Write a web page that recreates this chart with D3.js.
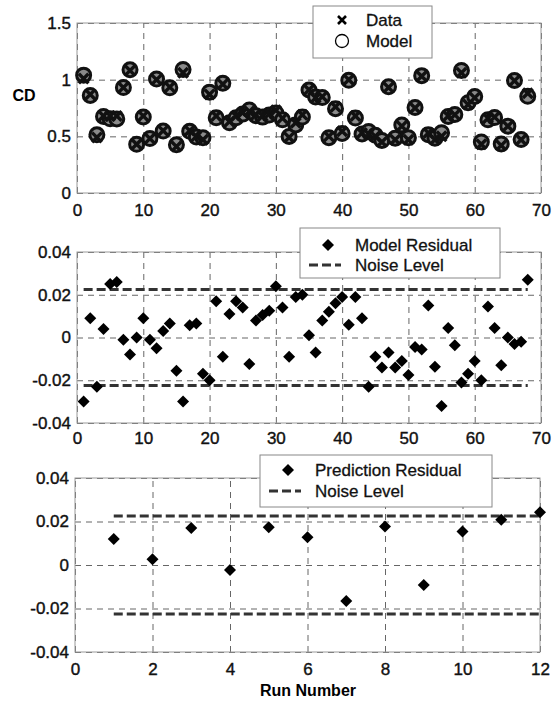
<!DOCTYPE html>
<html>
<head>
<meta charset="utf-8">
<script src="https://cdn.jsdelivr.net/npm/d3@7"></script>
<style>
  body { margin: 0; background: #fff; }
  svg { font-family: "Liberation Sans", Arial, sans-serif; }
</style>
</head>
<body>
<svg id="canvas"></svg>
<script>
// run numbers of the fitted set
const runs = [
  1, 2, 3, 4, 5, 6, 7, 8, 9, 10, 11, 12, 13, 14, 15, 16, 17,
  18, 19, 20, 21, 22, 23, 24, 25, 26, 27, 28, 29, 30, 31, 32, 33, 34,
  35, 36, 37, 38, 39, 40, 41, 42, 43, 44, 45, 46, 47, 48, 49, 50, 51,
  52, 53, 54, 55, 56, 57, 58, 59, 60, 61, 62, 63, 64, 65, 66, 67, 68,
];
// measured CD
const cdData = [
  1.01, 0.87, 0.49, 0.68, 0.68, 0.68, 0.93, 1.08, 0.43, 0.68, 0.48, 1.0, 0.55, 0.935, 0.41, 1.06, 0.55,
  0.5, 0.47, 0.87, 0.68, 0.96, 0.63, 0.68, 0.71, 0.72, 0.69, 0.68, 0.7, 0.73, 0.66, 0.49, 0.62, 0.69,
  0.91, 0.84, 0.85, 0.5, 0.76, 0.545, 1.0, 0.68, 0.53, 0.52, 0.5, 0.45, 0.93, 0.47, 0.59, 0.47, 0.75,
  1.03, 0.53, 0.47, 0.5, 0.68, 0.69, 1.06, 0.78, 0.84, 0.43, 0.66, 0.67, 0.42, 0.59, 0.99, 0.47, 0.88,
];
// data - model
const modelResidual = [
  -0.03, 0.009, -0.023, 0.004, 0.025, 0.026, -0.001, -0.008, 0.0, 0.009, -0.001, -0.005, 0.003, 0.0065, -0.0155, -0.03, 0.0057,
  0.0065, -0.017, -0.02, 0.017, -0.009, 0.011, 0.017, 0.014, -0.0124, 0.008, 0.0105, 0.0125, 0.024, 0.014, -0.009, 0.019, 0.02,
  0.001, -0.007, 0.008, 0.012, 0.016, 0.019, 0.006, 0.019, 0.009, -0.023, -0.009, -0.014, -0.007, -0.014, -0.011, -0.0175, -0.0044,
  -0.0056, 0.015, -0.0137, -0.032, 0.0045, -0.0036, -0.021, -0.017, -0.011, -0.02, 0.0145, 0.0045, -0.013, 0.0, -0.003, -0.002, 0.027,
];
const predRuns = [1, 2, 3, 4, 5, 6, 7, 8, 9, 10, 11, 12];
const predResidual = [0.012, 0.0026, 0.017, -0.0023, 0.0174, 0.0128, -0.0165, 0.0177, -0.0092, 0.0154, 0.0208, 0.0242];
const noiseLevel = 0.0225;

const cdTicks = [0, 0.5, 1, 1.5];
const residTicks = [-0.04, -0.02, 0, 0.02, 0.04];
const runTicks = [0, 10, 20, 30, 40, 50, 60, 70];
const predTicks = [0, 2, 4, 6, 8, 10, 12];

const width = 558;
const height = 705;

const canvas = d3.select("#canvas").attr("width", width).attr("height", height);

const fmt = (d) => String(+d.toFixed(2));

const makePanel = (box, xDomain, yDomain, xTicks, yTicks, xPad) => {
  const xScale = d3.scaleLinear().domain(xDomain).range([box.left, box.right]);
  const yScale = d3.scaleLinear().domain(yDomain).range([box.bottom, box.top]);
  const g = canvas.append("g");

  // grid
  g.append("g")
    .attr("transform", `translate(0, ${box.bottom})`)
    .call(d3.axisBottom(xScale).tickValues(xTicks).tickSize(-(box.bottom - box.top)).tickFormat(""))
    .call((s) => s.select(".domain").remove())
    .selectAll("line")
    .attr("stroke", "#666")
    .attr("stroke-dasharray", "6,5");
  g.append("g")
    .attr("transform", `translate(${box.left}, 0)`)
    .call(d3.axisLeft(yScale).tickValues(yTicks).tickSize(-(box.right - box.left)).tickFormat(""))
    .call((s) => s.select(".domain").remove())
    .selectAll("line")
    .attr("stroke", "#666")
    .attr("stroke-dasharray", "6,5");

  g.append("rect")
    .attr("x", box.left)
    .attr("y", box.top)
    .attr("width", box.right - box.left)
    .attr("height", box.bottom - box.top)
    .attr("fill", "none")
    .attr("stroke", "#999");

  // tick labels
  const xAxis = g.append("g")
    .attr("transform", `translate(0, ${box.bottom})`)
    .call(d3.axisBottom(xScale).tickValues(xTicks).tickSize(0).tickPadding(xPad).tickFormat(fmt));
  const yAxis = g.append("g")
    .attr("transform", `translate(${box.left}, 0)`)
    .call(d3.axisLeft(yScale).tickValues(yTicks).tickSize(0).tickPadding(6).tickFormat(fmt));
  [xAxis, yAxis].forEach((a) => {
    a.select(".domain").remove();
    a.selectAll("text")
      .attr("font-size", 17)
      .attr("fill", "#111")
      .attr("stroke", "#111")
      .attr("stroke-width", 0.4);
    a.attr("font-family", null);
  });

  return { xScale, yScale, g };
};

const drawNoise = (p, xs) => {
  [noiseLevel, -noiseLevel].forEach((lvl) => {
    p.g.append("path")
      .datum(xs)
      .attr("d", d3.line().x((d) => p.xScale(d)).y(() => p.yScale(lvl)))
      .attr("fill", "none")
      .attr("stroke", "#333")
      .attr("stroke-width", 3)
      .attr("stroke-dasharray", "9,4");
  });
};

const diamond = d3.symbol().type(d3.symbolSquare).size(72);

const drawDiamonds = (p, xs, ys) => {
  p.g.selectAll(".dia")
    .data(xs)
    .enter()
    .append("path")
    .attr("d", diamond)
    .attr("transform", (d, i) => `translate(${p.xScale(d)}, ${p.yScale(ys[i])}) rotate(45)`)
    .attr("fill", "#000");
};

const drawLegend = (g, box, items) => {
  g.append("rect")
    .attr("x", box.x).attr("y", box.y).attr("width", box.w).attr("height", box.h)
    .attr("fill", "#fff").attr("stroke", "#888");
  items.forEach((it) => {
    if (it.type === "diamond") {
      g.append("path").attr("d", diamond).attr("transform", `translate(${it.mx}, ${it.y}) rotate(45)`);
    } else if (it.type === "dash") {
      g.append("line")
        .attr("x1", it.mx - 16).attr("x2", it.mx + 16).attr("y1", it.y).attr("y2", it.y)
        .attr("stroke", "#333").attr("stroke-width", 3).attr("stroke-dasharray", "9,4");
    } else if (it.type === "cross") {
      g.append("path").attr("d", "M-4,-4L4,4M-4,4L4,-4")
        .attr("transform", `translate(${it.mx}, ${it.y})`)
        .attr("stroke", "#000").attr("stroke-width", 2.6);
    } else if (it.type === "circle") {
      g.append("circle").attr("cx", it.mx).attr("cy", it.y).attr("r", 6.5)
        .attr("fill", "none").attr("stroke", "#000").attr("stroke-width", 1.3);
    }
    g.append("text")
      .attr("x", it.tx).attr("y", it.y).attr("dy", "0.35em")
      .attr("font-size", 17).attr("fill", "#111")
      .attr("stroke", "#111").attr("stroke-width", 0.3)
      .text(it.label);
  });
};

// ---- top panel: CD
const cdPanel = makePanel({ left: 77, right: 541, top: 23, bottom: 193 }, [0, 70], [0, 1.5], runTicks, cdTicks, 11);
const model = cdData.map((d, i) => d - modelResidual[i]);

cdPanel.g.selectAll(".model")
  .data(runs)
  .enter()
  .append("circle")
  .attr("cx", (d) => cdPanel.xScale(d))
  .attr("cy", (d, i) => cdPanel.yScale(model[i]))
  .attr("r", 7)
  .attr("fill", "#8a8a8a")
  .attr("stroke", "#111")
  .attr("stroke-width", 3);

cdPanel.g.selectAll(".data")
  .data(runs)
  .enter()
  .append("path")
  .attr("d", "M-4.8,-4.8L4.8,4.8M-4.8,4.8L4.8,-4.8")
  .attr("transform", (d, i) => `translate(${cdPanel.xScale(d)}, ${cdPanel.yScale(cdData[i])})`)
  .attr("stroke", "#111")
  .attr("stroke-width", 3.4);

canvas.append("text")
  .attr("x", 24).attr("y", 95).attr("dy", "0.35em")
  .attr("text-anchor", "middle")
  .attr("font-size", 16).attr("font-weight", "bold")
  .text("CD");

drawLegend(cdPanel.g, { x: 313, y: 6, w: 119, h: 52 }, [
  { type: "cross", mx: 342, tx: 366, y: 20, label: "Data" },
  { type: "circle", mx: 342, tx: 366, y: 41, label: "Model" },
]);

// ---- middle panel: model residual
const midPanel = makePanel({ left: 77, right: 541, top: 252, bottom: 423 }, [0, 70], [-0.04, 0.04], runTicks, residTicks, 9);
drawNoise(midPanel, [runs[0], runs[runs.length - 1]]);
drawDiamonds(midPanel, runs, modelResidual);
drawLegend(midPanel.g, { x: 300, y: 228, w: 200, h: 50 }, [
  { type: "diamond", mx: 328, tx: 355, y: 245, label: "Model Residual" },
  { type: "dash", mx: 325, tx: 355, y: 265, label: "Noise Level" },
]);

// ---- bottom panel: prediction residual
const botPanel = makePanel({ left: 75, right: 540, top: 478, bottom: 652 }, [0, 12], [-0.04, 0.04], predTicks, residTicks, 11);
drawNoise(botPanel, [predRuns[0], predRuns[predRuns.length - 1]]);
drawDiamonds(botPanel, predRuns, predResidual);
drawLegend(botPanel.g, { x: 260, y: 455, w: 232, h: 52 }, [
  { type: "diamond", mx: 288, tx: 315, y: 470, label: "Prediction Residual" },
  { type: "dash", mx: 285, tx: 315, y: 491, label: "Noise Level" },
]);

canvas.append("text")
  .attr("x", 308).attr("y", 690).attr("dy", "0.35em")
  .attr("text-anchor", "middle")
  .attr("font-size", 16).attr("font-weight", "bold")
  .text("Run Number");
</script>
</body>
</html>
